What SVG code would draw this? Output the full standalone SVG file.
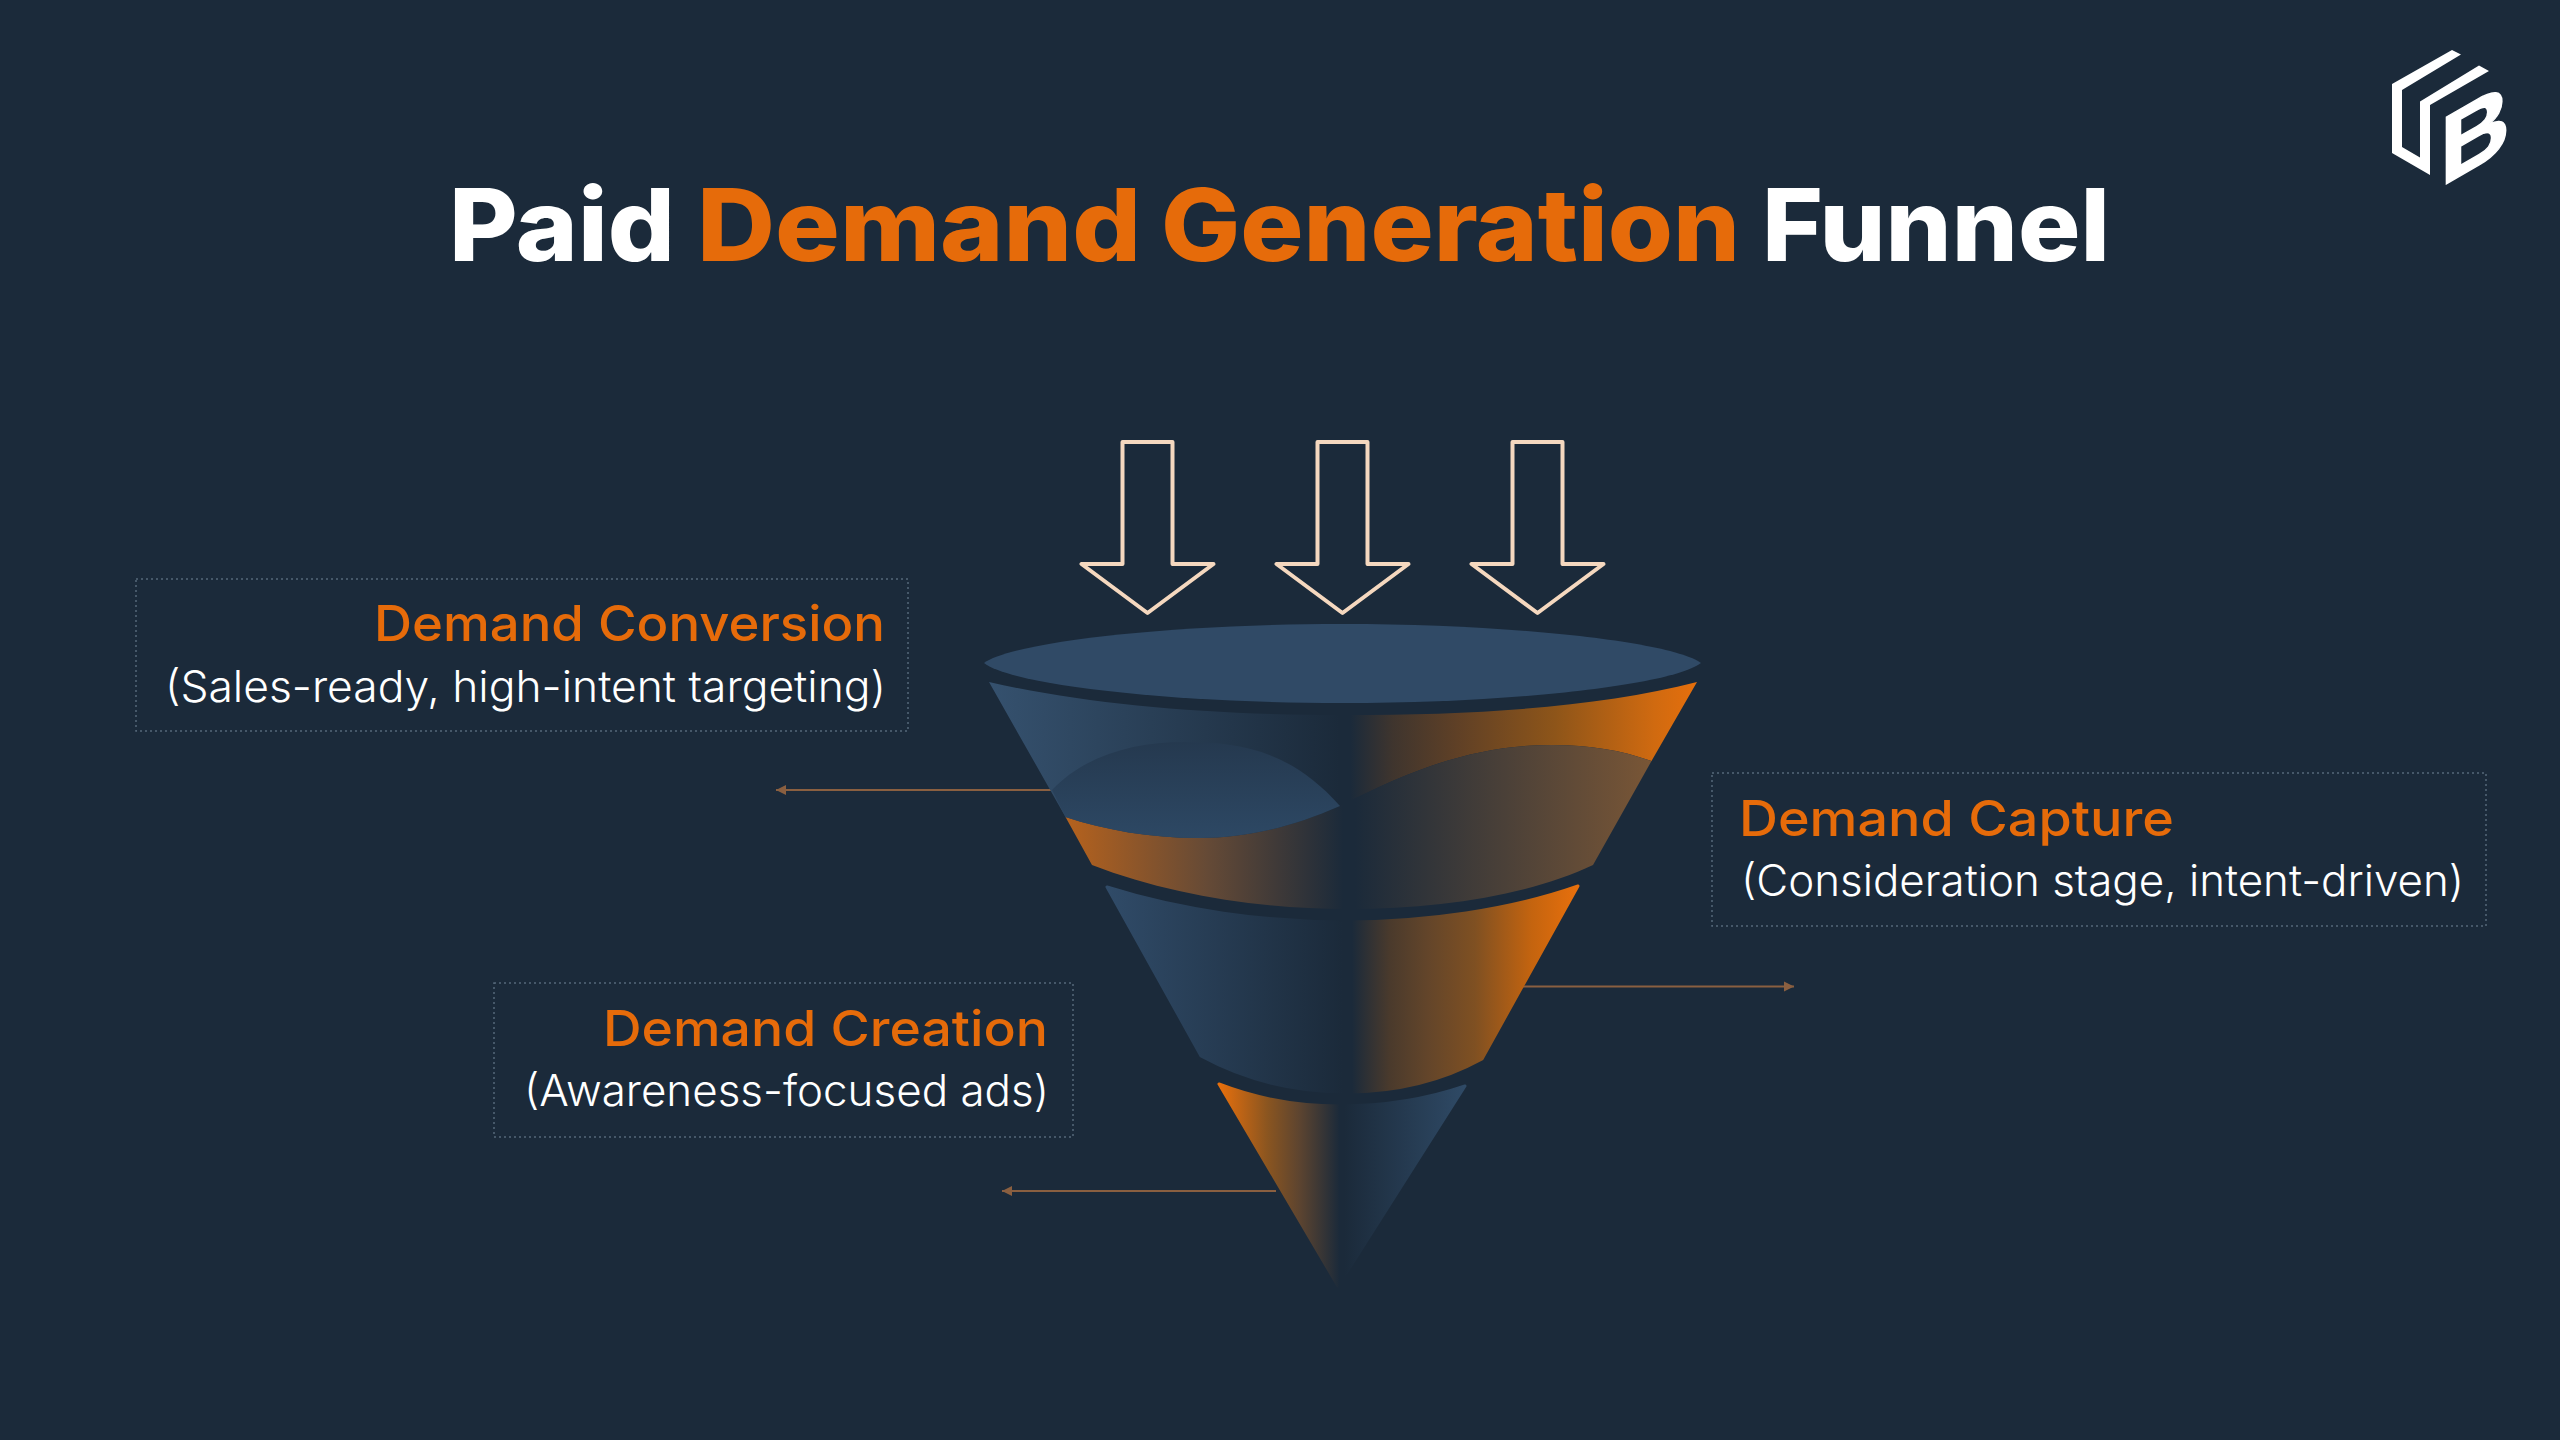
<svg xmlns="http://www.w3.org/2000/svg" width="2560" height="1440" viewBox="0 0 2560 1440">
<style>
text{font-family:"Inter","Noto Sans","Liberation Sans",sans-serif}
.t{font-size:100px;font-weight:800}
.w{fill:#fff}
.o{fill:#e66b0a}
.h{font-size:50px;font-weight:500;fill:#e66b0a}
.s{font-size:43px;font-weight:300;fill:#fff}
.box{fill:none;stroke:#55687a;stroke-width:1.5;stroke-dasharray:2 3}
.arr{fill:none;stroke:#f5d8bf;stroke-width:4;stroke-linejoin:round}
.con{fill:none;stroke:#8a5f40;stroke-width:2;marker-end:url(#head)}
</style>
<defs>
<marker id="head" markerUnits="userSpaceOnUse" markerWidth="11" markerHeight="12" refX="10" refY="6" orient="auto"><path d="M0,1 L10,6 L0,11 Z" fill="#8a5f40"/></marker>
<path id="arrow" d="M-25,0 H25 V122 H66 L0,171 L-66,122 H-25 Z"/>
<linearGradient id="gTop" gradientUnits="userSpaceOnUse" x1="990" y1="0" x2="1697" y2="0"><stop offset="0" stop-color="#35516e"/><stop offset=".495" stop-color="#1b2a3a"/><stop offset=".51" stop-color="#1b2a3a"/><stop offset=".57" stop-color="#3f352e"/><stop offset=".66" stop-color="#5f4026"/><stop offset=".8" stop-color="#8e5519"/><stop offset=".94" stop-color="#d06a10"/><stop offset="1" stop-color="#e66f0c"/></linearGradient>
<linearGradient id="gLow" gradientUnits="userSpaceOnUse" x1="1060" y1="0" x2="1650" y2="0"><stop offset="0" stop-color="#b9631c"/><stop offset=".25" stop-color="#654a36"/><stop offset=".48" stop-color="#1b2a3a"/><stop offset=".5" stop-color="#1b2a3a"/><stop offset="1" stop-color="#795636"/></linearGradient>
<linearGradient id="gLens" gradientUnits="userSpaceOnUse" x1="0" y1="742" x2="0" y2="838"><stop offset="0" stop-color="#25394f"/><stop offset="1" stop-color="#2d4864"/></linearGradient>
<linearGradient id="gMid" gradientUnits="userSpaceOnUse" x1="1106" y1="0" x2="1579" y2="0"><stop offset="0" stop-color="#304b68"/><stop offset=".5" stop-color="#1b2a3a"/><stop offset=".52" stop-color="#1b2a3a"/><stop offset=".6" stop-color="#4a3a2c"/><stop offset=".68" stop-color="#63452a"/><stop offset=".78" stop-color="#7f5022"/><stop offset=".9" stop-color="#c4640f"/><stop offset="1" stop-color="#e9700c"/></linearGradient>
<linearGradient id="gBot" gradientUnits="userSpaceOnUse" x1="1218" y1="0" x2="1466" y2="0"><stop offset="0" stop-color="#e9700c"/><stop offset=".2" stop-color="#8a5520"/><stop offset=".33" stop-color="#5c4430"/><stop offset=".49" stop-color="#1b2a3a"/><stop offset=".51" stop-color="#1b2a3a"/><stop offset="1" stop-color="#2f4a66"/></linearGradient>
</defs>
<rect width="2560" height="1440" fill="#1b2a3a"/>

<g id="title">
<text class="t w" x="449" y="261" textLength="226" lengthAdjust="spacingAndGlyphs">Paid</text>
<text class="t o" x="697" y="261" textLength="444" lengthAdjust="spacingAndGlyphs">Demand</text>
<text class="t o" x="1161" y="261" textLength="579" lengthAdjust="spacingAndGlyphs">Generation</text>
<text class="t w" x="1762" y="261" textLength="348" lengthAdjust="spacingAndGlyphs">Funnel</text>
</g>

<g id="logo">
<path fill="#fff" d="M2452,50 L2461,54.500 L2402,90 V147 L2420,157.500 V101.500 L2479,65.500 L2489,71 L2430,105 V175 L2392,153 V84 Z"/>
<text x="2440" y="184" font-size="97" fill="#fff" stroke="#fff" stroke-width="1.500" transform="translate(2446 184) skewY(-30) translate(-2446 -184)" style="font-family:'Liberation Sans',sans-serif;font-weight:700">B</text>
</g>

<g id="connectors">
<path class="con" d="M1052,790 H776"/>
<path class="con" d="M1523,986.500 H1794"/>
<path class="con" d="M1276,1191 H1002"/>
</g>

<g id="input-arrows">
<use href="#arrow" class="arr" x="1147.5" y="442"/>
<use href="#arrow" class="arr" x="1342.5" y="442"/>
<use href="#arrow" class="arr" x="1537.5" y="442"/>
</g>

<g id="funnel-top">
<path fill="url(#gTop)" d="M989,682 C1090,705 1210,715 1345,715 C1480,715 1600,707 1697,682 L1651.500,761 C1620,750 1590,745 1552,745 C1480,745 1420,765 1340,806 C1290,828 1245,838 1199,838 C1150,838 1105,830 1065.500,817 Z"/>
<path fill="url(#gLow)" d="M1065.500,817 C1105,830 1150,838 1199,838 C1245,838 1290,828 1340,806 C1420,765 1480,745 1552,745 C1590,745 1620,750 1651.500,761 L1593,865 C1530,895 1440,909 1348,909 C1260,909 1170,895 1092,865 Z"/>
<path fill="url(#gLens)" d="M1052,790 C1085,755 1135,742 1184,742 C1240,742 1290,750 1340,806 C1290,828 1245,838 1199,838 C1150,838 1105,830 1065.500,817 Z"/>
<path fill="#304a66" d="M984,663 C1012,642 1170,624 1342,624 C1515,624 1672,642 1701,663 C1672,685 1515,703 1342,703 C1170,703 1012,685 984,663 Z"/>
</g>
<g id="funnel-middle">
<path fill="url(#gMid)" stroke="url(#gMid)" stroke-width="3" stroke-linejoin="round" d="M1107,887 C1180,910 1265,922 1345,922 C1425,922 1510,910 1578,886 L1482,1059 C1440,1082 1395,1092 1347,1092 C1295,1092 1245,1080 1201,1056 Z"/>
</g>
<g id="funnel-bottom">
<path fill="url(#gBot)" stroke="url(#gBot)" stroke-width="3" stroke-linejoin="round" d="M1219,1084 C1255,1098 1295,1106 1340,1106 C1385,1106 1430,1098 1465,1086 L1338,1286 Z"/>
</g>

<g id="label-conversion">
<rect class="box" x="136" y="579" width="772" height="152"/>
<text class="h" x="374" y="641" textLength="511" lengthAdjust="spacingAndGlyphs">Demand Conversion</text>
<text class="s" x="165" y="702" textLength="721" lengthAdjust="spacingAndGlyphs">(Sales-ready, high-intent targeting)</text>
</g>
<g id="label-capture">
<rect class="box" x="1712" y="773" width="774" height="153"/>
<text class="h" x="1739" y="836" textLength="435" lengthAdjust="spacingAndGlyphs">Demand Capture</text>
<text class="s" x="1741" y="896" textLength="723" lengthAdjust="spacingAndGlyphs">(Consideration stage, intent-driven)</text>
</g>
<g id="label-creation">
<rect class="box" x="494" y="983" width="579" height="154"/>
<text class="h" x="603" y="1046" textLength="445" lengthAdjust="spacingAndGlyphs">Demand Creation</text>
<text class="s" x="524" y="1106" textLength="525" lengthAdjust="spacingAndGlyphs">(Awareness-focused ads)</text>
</g>
</svg>
